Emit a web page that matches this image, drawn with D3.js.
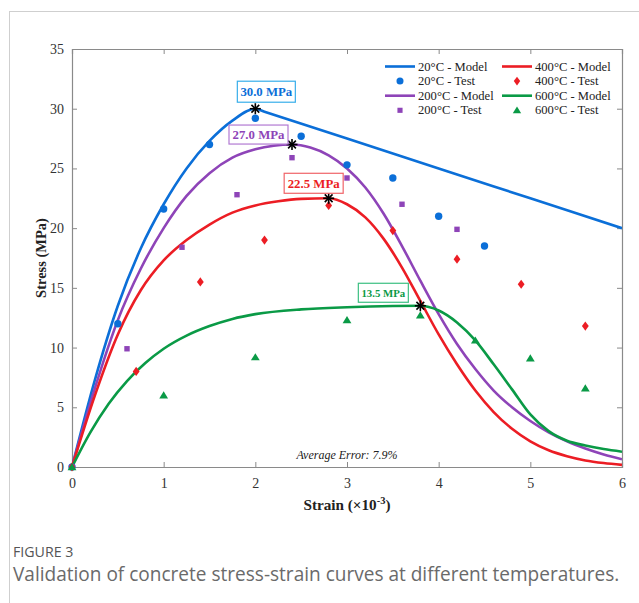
<!DOCTYPE html>
<html><head><meta charset="utf-8">
<script src="https://cdn.jsdelivr.net/npm/d3@7"></script>
<style>
html,body{margin:0;padding:0;background:#fff;}
svg{display:block;}
</style></head>
<body>
<script>
// ---------- DATA ----------
const xTicks = [0,1,2,3,4,5,6];
const yTicks = [0,5,10,15,20,25,30,35];

const model20S = [0,0.25,0.5,0.75,1.0,1.25,1.5,1.75,2.0,2.1,3,4,5,6];
const model20V = [0,7.3,13.5,18.3,22.0,25.0,27.3,29.0,30.0,29.75,27.5,25.0,22.5,20.0];

const model200S = [0,0.25,0.5,0.75,1.0,1.25,1.5,1.75,2.0,2.2,2.4,2.6,2.8,3.0,3.2,3.4,3.6,3.8,4.0,4.2,4.4,4.6,4.8,5.0,5.2,5.4,5.6,5.8,6.0];
const model200V = [0,6.6,12.3,16.6,20.0,22.7,24.6,25.9,26.6,26.9,27.0,26.75,26.1,25.0,23.4,21.2,18.5,15.6,12.8,10.3,8.2,6.4,5.0,3.85,2.9,2.15,1.55,1.05,0.65];

const model400S = [0,0.25,0.5,0.75,1.0,1.25,1.5,1.75,2.0,2.25,2.5,2.8,3.0,3.2,3.4,3.6,3.8,4.0,4.2,4.4,4.6,4.8,5.0,5.2,5.4,5.6,5.8,6.0];
const model400V = [0,6.0,11.1,14.8,17.3,19.0,20.3,21.3,21.9,22.25,22.45,22.5,22.0,20.9,19.1,16.7,13.9,11.1,8.6,6.4,4.6,3.2,2.15,1.4,0.9,0.55,0.33,0.18];

const model600S = [0,0.2,0.4,0.6,0.8,1.0,1.25,1.5,1.75,2.0,2.5,3.0,3.5,3.8,4.0,4.2,4.4,4.6,4.8,5.0,5.2,5.4,5.6,5.8,6.0];
const model600V = [0,2.9,5.3,7.2,8.7,9.9,11.0,11.8,12.4,12.8,13.2,13.38,13.48,13.5,13.1,12.1,10.6,8.6,6.5,4.4,3.0,2.2,1.8,1.5,1.28];

const test20S = [0,0.5,1.0,1.5,2.0,2.5,3.0,3.5,4.0,4.5];
const test20V = [0,12.0,21.6,27.0,29.2,27.7,25.3,24.2,21.0,18.5];
const test200S = [0,0.6,1.2,1.8,2.4,3.0,3.6,4.2];
const test200V = [0,9.9,18.4,22.8,25.9,24.2,22.0,19.9];
const test400S = [0,0.7,1.4,2.1,2.8,3.5,4.2,4.9,5.6];
const test400V = [0,8.0,15.5,19.0,21.9,19.8,17.4,15.3,11.8];
const test600S = [0,1.0,2.0,3.0,3.8,4.4,5.0,5.6];
const test600V = [0,6.0,9.2,12.3,12.7,10.6,9.1,6.6];

const peakStrain = [2.0,2.4,2.8,3.8];
const peakStress = [30.0,27.0,22.5,13.5];
const peakLabels = ["30.0 MPa","27.0 MPa","22.5 MPa","13.5 MPa"];

const legendLabels = ["20°C - Model","20°C - Test","200°C - Model","200°C - Test",
                      "400°C - Model","400°C - Test","600°C - Model","600°C - Test"];

// ---------- STYLE ----------
const W = 639, H = 603;
const M = {left:72, right:622, top:49, bottom:467};
const colors = ["#0b6fd8","#8e44b8","#ec1d24","#0a9a46"];
const boxStroke = ["#38aeea","#b27ad2","#f06468","#3cbf82"];
const serif = "'Liberation Serif','Times New Roman',serif";

const svg = d3.select("body").append("svg").attr("width",W).attr("height",H);
svg.append("rect").attr("width",W).attr("height",H).attr("fill","#fff");
svg.append("rect").attr("x",9.5).attr("y",11.5).attr("width",800).attr("height",800)
  .attr("fill","none").attr("stroke","#cfcfcf").attr("stroke-width",1);

const x = d3.scaleLinear().domain([0,6]).range([M.left,M.right]);
const y = d3.scaleLinear().domain([0,35]).range([M.bottom,M.top]);

const axisColor = "#8a8a8a";
const g = svg.append("g");

const ax = g.append("g").attr("transform",`translate(0,${M.bottom})`)
  .call(d3.axisBottom(x).tickValues(xTicks).tickSize(-5).tickPadding(11).tickFormat(d3.format("d")));
const axTop = g.append("g").attr("transform",`translate(0,${M.top})`)
  .call(d3.axisTop(x).tickValues(xTicks).tickSize(-5).tickFormat(""));
const ay = g.append("g").attr("transform",`translate(${M.left},0)`)
  .call(d3.axisLeft(y).tickValues(yTicks).tickSize(-5).tickPadding(8).tickFormat(d3.format("d")));
const ayR = g.append("g").attr("transform",`translate(${M.right},0)`)
  .call(d3.axisRight(y).tickValues(yTicks).tickSize(-5).tickFormat(""));
[ax,axTop,ay,ayR].forEach(a=>{
  a.selectAll("path").attr("stroke",axisColor).attr("stroke-width",1.2);
  a.selectAll("line").attr("stroke",axisColor).attr("stroke-width",1);
  a.selectAll("text").attr("font-family",serif).attr("font-size",14).attr("fill","#333");
});

svg.append("text").attr("x",(M.left+M.right)/2).attr("y",510).attr("text-anchor","middle")
  .attr("font-family",serif).attr("font-weight","bold").attr("font-size",15.2).attr("fill","#222")
  .call(t=>{
    t.append("tspan").text("Strain (×10");
    t.append("tspan").attr("dy",-6).attr("font-size",10.5).text("-3");
    t.append("tspan").attr("dy",6).text(")");
  });
svg.append("text").attr("transform",`translate(46,${(M.top+M.bottom)/2}) rotate(-90)`)
  .attr("text-anchor","middle").attr("font-family",serif).attr("font-weight","bold")
  .attr("font-size",14.5).attr("fill","#222").text("Stress (MPa)");

svg.append("clipPath").attr("id","clip").append("rect")
  .attr("x",M.left).attr("y",M.top).attr("width",M.right-M.left).attr("height",M.bottom-M.top);

const line = d3.line().x(d=>x(d[0])).y(d=>y(d[1])).curve(d3.curveMonotoneX);
const models = [[model20S,model20V],[model200S,model200V],[model400S,model400V],[model600S,model600V]];
const tests = [[test20S,test20V],[test200S,test200V],[test400S,test400V],[test600S,test600V]];

const plot = svg.append("g").attr("clip-path","url(#clip)");
const plotTop = svg.append("g");

function marker(sel, k, cx, cy, scale){
  scale = scale||1;
  if(k===0){
    sel.append("circle").attr("cx",cx).attr("cy",cy).attr("r",3.7*scale).attr("fill",colors[0]);
  } else if(k===1){
    const s=5.4*scale;
    sel.append("rect").attr("x",cx-s/2).attr("y",cy-s/2).attr("width",s).attr("height",s).attr("fill",colors[1]);
  } else if(k===2){
    const w=3.4*scale,h=4.6*scale;
    sel.append("path").attr("d",`M${cx},${cy-h}L${cx+w},${cy}L${cx},${cy+h}L${cx-w},${cy}Z`).attr("fill",colors[2]);
  } else {
    const w=4.4*scale,h=4.0*scale;
    sel.append("path").attr("d",`M${cx},${cy-h}L${cx+w},${cy+h*0.8}L${cx-w},${cy+h*0.8}Z`).attr("fill",colors[3]);
  }
}

models.forEach((m,k)=>{
  const pts = m[0].map((s,i)=>[s,m[1][i]]);
  plot.append("path").datum(pts).attr("d",line).attr("fill","none")
    .attr("stroke",colors[k]).attr("stroke-width",2.6).attr("stroke-linejoin","round");
  const t = tests[k];
  t[0].forEach((s,i)=>marker(plotTop,k,x(s),y(t[1][i])));
});

peakStrain.forEach((s,i)=>{
  const cx=x(s), cy=y(peakStress[i]), r=5.5;
  const st = svg.append("g").attr("stroke","#000").attr("stroke-width",1.6);
  [[0,1],[1,0],[0.707,0.707],[0.707,-0.707]].forEach(([a,b])=>{
    st.append("line").attr("x1",cx-a*r).attr("y1",cy-b*r).attr("x2",cx+a*r).attr("y2",cy+b*r);
  });
});

const boxOff = [[11,-17],[-33.5,-10],[-15,-15],[-37,-13]];
const boxSize = [[58,21],[59,19],[59,20],[50,19]];
const boxFont = [12.8,12.8,12.8,10.8];
peakStrain.forEach((s,i)=>{
  const cx=x(s)+boxOff[i][0], cy=y(peakStress[i])+boxOff[i][1];
  const [bw,bh]=boxSize[i];
  svg.append("rect").attr("x",cx-bw/2).attr("y",cy-bh/2).attr("width",bw).attr("height",bh)
    .attr("fill","#fff").attr("stroke",boxStroke[i]).attr("stroke-width",1.2);
  svg.append("text").attr("x",cx).attr("y",cy).attr("dy","0.36em").attr("text-anchor","middle")
    .attr("font-family",serif).attr("font-weight","bold").attr("font-size",boxFont[i])
    .attr("fill",colors[i]).text(peakLabels[i]);
});

const legX = [385,502], legY0 = 66.5, legDy = 14.6;
legendLabels.forEach((lab,i)=>{
  const col = Math.floor(i/4), row = i%4, k = col*2+Math.floor(row/2);
  const isModel = row%2===0;
  const lx = legX[col], ly = legY0+row*legDy;
  if(isModel){
    svg.append("line").attr("x1",lx).attr("x2",lx+30).attr("y1",ly).attr("y2",ly)
      .attr("stroke",colors[k]).attr("stroke-width",2.6);
  } else {
    marker(svg,k,lx+15,ly,0.95);
  }
  svg.append("text").attr("x",lx+33).attr("y",ly).attr("dy","0.33em")
    .attr("font-family",serif).attr("font-size",12.6).attr("fill","#222").text(lab);
});

svg.append("text").attr("x",(M.left+M.right)/2).attr("y",459).attr("text-anchor","middle")
  .attr("font-family",serif).attr("font-style","italic").attr("font-size",12).attr("fill","#222")
  .text("Average Error: 7.9%");

svg.append("text").attr("x",13).attr("y",557).attr("font-family","'Open Sans',sans-serif")
  .attr("font-size",14.2).attr("fill","#555").text("FIGURE 3");
svg.append("text").attr("x",13).attr("y",581).attr("font-family","'Open Sans',sans-serif")
  .attr("font-size",19.05).attr("fill","#6a6a6a")
  .text("Validation of concrete stress-strain curves at different temperatures.");
</script>
</body></html>
